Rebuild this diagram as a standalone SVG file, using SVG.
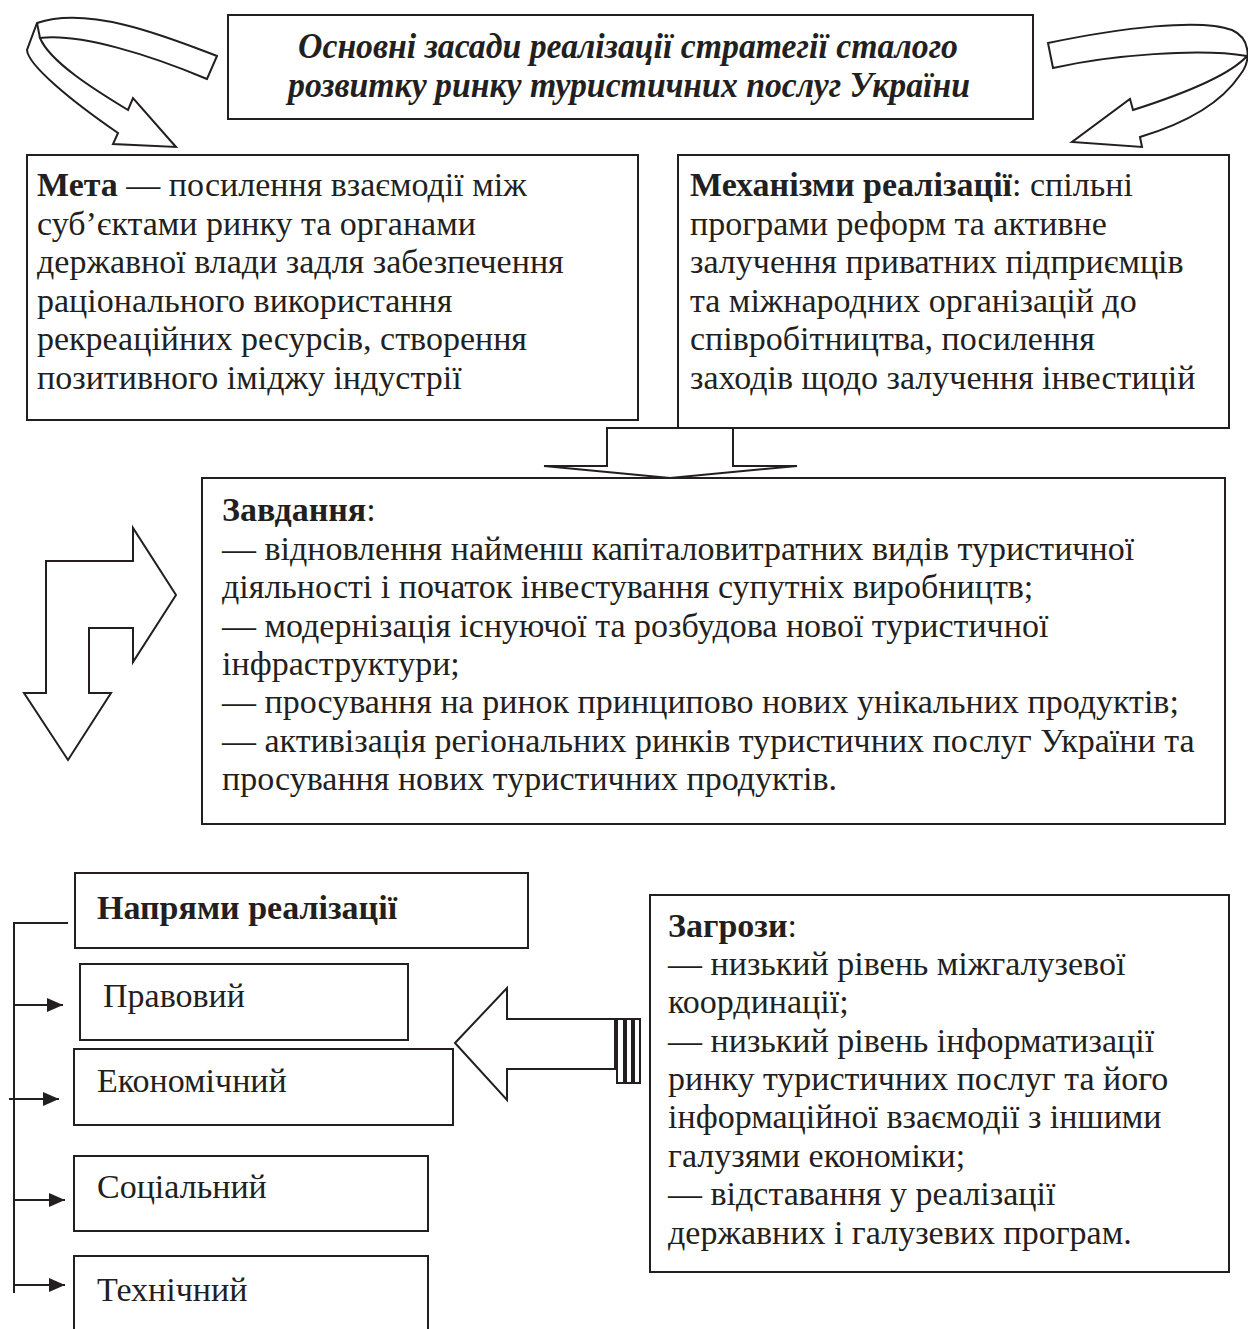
<svg xmlns="http://www.w3.org/2000/svg" width="1248" height="1329" viewBox="0 0 1248 1329">
<defs>
<style>
.box{fill:none;stroke:#231f20;stroke-width:2}
.shape{fill:#fff;stroke:#231f20;stroke-width:2;stroke-linejoin:miter}
.ln{fill:none;stroke:#231f20;stroke-width:2}
.t{font-family:"Liberation Serif","Times New Roman",serif;font-size:34px;fill:#231f20}
.b{font-weight:bold}
.title{font-family:"Liberation Serif","Times New Roman",serif;font-size:35px;font-weight:bold;font-style:italic;fill:#231f20}
</style>
<marker id="ah" viewBox="0 0 16 14" refX="16" refY="7" markerWidth="16" markerHeight="14" markerUnits="userSpaceOnUse" orient="auto">
<path d="M0,0 L16,7 L0,14 Z" fill="#231f20"/>
</marker>
</defs>
<rect width="1248" height="1329" fill="#fff"/>

<g id="connectors">
<!-- left curved arrow -->
<path class="shape" d="M217,56 C170,38 90,5 37,23 L27,50 C28,65 70,100 118,133 L113,144 L176,147 L133,98 L128,110 C95,90 50,62 40,38 C80,33 150,55 207,79 Z"/>
<path class="ln" d="M37,23 L40,38"/>
<!-- right curved arrow -->
<path class="shape" d="M1048,43 C1120,28 1200,18 1232,30 C1250,38 1252,60 1240,75 C1220,105 1180,125 1140,137 L1142,147 L1072,142 L1130,99 L1133,110 C1180,95 1230,75 1247,56 C1200,48 1110,55 1053,68 Z"/>
<!-- down arrow -->
<path class="shape" d="M607,428 L733,428 L733,466 L797,466 L670,478 L544,466 L607,466 Z"/>
<!-- bent arrow -->
<path class="shape" d="M46,561 L133,561 L133,528 L176,595 L133,662 L133,628 L89,628 L89,693 L111,693 L68,760 L24,693 L46,693 Z"/>
<!-- big left arrow -->
<path class="shape" d="M455,1043 L507,988 L507,1019 L615,1019 L615,1069 L507,1069 L507,1100 Z"/>
<rect class="shape" x="617" y="1019" width="7" height="64"/>
<rect class="shape" x="626" y="1019" width="6" height="64"/>
<rect class="shape" x="634" y="1019" width="6" height="64"/>
<!-- bracket -->
<path class="ln" d="M68,923 L14,923 L14,1293"/>
<path class="ln" d="M14,1005 L63,1005" marker-end="url(#ah)"/>
<path class="ln" d="M9,1099 L59,1099" marker-end="url(#ah)"/>
<path class="ln" d="M14,1200 L65,1200" marker-end="url(#ah)"/>
<path class="ln" d="M14,1285 L65,1285" marker-end="url(#ah)"/>
</g>

<g id="title">
<rect class="box" x="228" y="15" width="805" height="104"/>
<text class="title" x="298" y="58" textLength="660" lengthAdjust="spacingAndGlyphs">Основні засади реалізації стратегії сталого</text>
<text class="title" x="288" y="97" textLength="682" lengthAdjust="spacingAndGlyphs">розвитку ринку туристичних послуг України</text>
</g>

<g id="meta">
<rect class="box" x="27" y="155" width="611" height="265"/>
<text class="t" x="37" y="196"><tspan class="b">Мета</tspan> — посилення взаємодії між</text>
<text class="t" x="37" y="235">суб’єктами ринку та органами</text>
<text class="t" x="37" y="273">державної влади задля забезпечення</text>
<text class="t" x="37" y="312">раціонального використання</text>
<text class="t" x="37" y="350">рекреаційних ресурсів, створення</text>
<text class="t" x="37" y="389">позитивного іміджу індустрії</text>
</g>

<g id="mechanisms">
<rect class="box" x="678" y="155" width="551" height="273"/>
<text class="t" x="690" y="196"><tspan class="b">Механізми реалізації</tspan>: спільні</text>
<text class="t" x="690" y="235">програми реформ та активне</text>
<text class="t" x="690" y="273">залучення приватних підприємців</text>
<text class="t" x="690" y="312">та міжнародних організацій до</text>
<text class="t" x="690" y="350">співробітництва, посилення</text>
<text class="t" x="690" y="389">заходів щодо залучення інвестицій</text>
</g>

<g id="tasks">
<rect class="box" x="202" y="478" width="1023" height="346"/>
<text class="t" x="222" y="521"><tspan class="b">Завдання</tspan>:</text>
<text class="t" x="222" y="560">— відновлення найменш капіталовитратних видів туристичної</text>
<text class="t" x="222" y="598">діяльності і початок інвестування супутніх виробництв;</text>
<text class="t" x="222" y="637">— модернізація існуючої та розбудова нової туристичної</text>
<text class="t" x="222" y="675">інфраструктури;</text>
<text class="t" x="222" y="713">— просування на ринок принципово нових унікальних продуктів;</text>
<text class="t" x="222" y="752">— активізація регіональних ринків туристичних послуг України та</text>
<text class="t" x="222" y="790">просування нових туристичних продуктів.</text>
</g>

<g id="directions">
<rect class="box" x="75" y="873" width="453" height="75"/>
<text class="t b" x="97" y="919">Напрями реалізації</text>
</g>
<g id="legal">
<rect class="box" x="80" y="964" width="328" height="76"/>
<text class="t" x="103" y="1007">Правовий</text>
</g>
<g id="economic">
<rect class="box" x="74" y="1049" width="379" height="76"/>
<text class="t" x="97" y="1092">Економічний</text>
</g>
<g id="social">
<rect class="box" x="74" y="1156" width="354" height="75"/>
<text class="t" x="97" y="1198">Соціальний</text>
</g>
<g id="technical">
<rect class="box" x="74" y="1256" width="354" height="120"/>
<text class="t" x="97" y="1301">Технічний</text>
</g>

<g id="threats">
<rect class="box" x="650" y="895" width="579" height="377"/>
<text class="t" x="668" y="937"><tspan class="b">Загрози</tspan>:</text>
<text class="t" x="668" y="975">— низький рівень міжгалузевої</text>
<text class="t" x="668" y="1013">координації;</text>
<text class="t" x="668" y="1052">— низький рівень інформатизації</text>
<text class="t" x="668" y="1090">ринку туристичних послуг та його</text>
<text class="t" x="668" y="1128">інформаційної взаємодії з іншими</text>
<text class="t" x="668" y="1167">галузями економіки;</text>
<text class="t" x="668" y="1205">— відставання у реалізації</text>
<text class="t" x="668" y="1244">державних і галузевих програм.</text>
</g>
</svg>
